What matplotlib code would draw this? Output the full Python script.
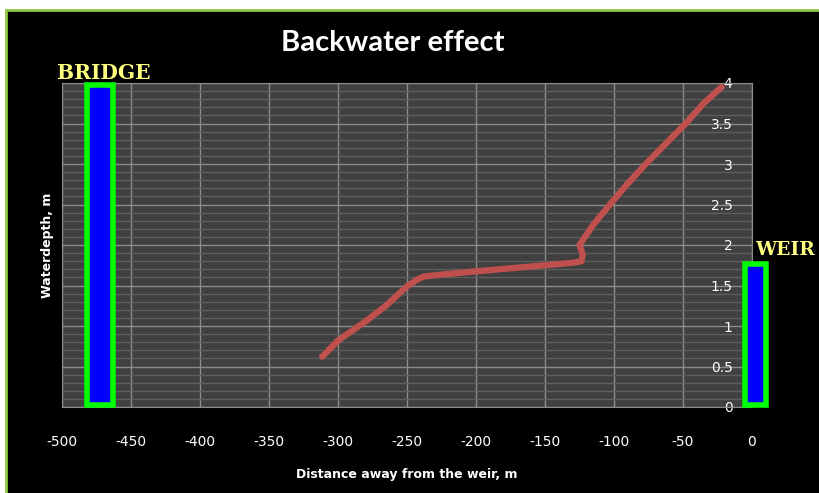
import matplotlib
matplotlib.use("Agg")
import matplotlib.pyplot as plt
import matplotlib.patches as patches
from matplotlib.ticker import MultipleLocator

# water surface profile
dist = [-311.5, -300, -279, -264.6, -250, -243, -238, -228, -200, -150,
        -130, -123.5, -122.6, -125, -115, -103, -90.5, -77, -62.5, -48, -35, -22]
depth = [0.62, 0.82, 1.07, 1.26, 1.49, 1.57, 1.61, 1.63, 1.675, 1.75,
         1.78, 1.80, 1.88, 2.0, 2.25, 2.5, 2.75, 3.0, 3.25, 3.5, 3.75, 3.95]

# structures: (x left, x right, top depth)
bridge = (-482, -463, 3.98)
weir = (-5, 10, 1.76)

xticks = [-500, -450, -400, -350, -300, -250, -200, -150, -100, -50, 0]
yticks = [0, 0.5, 1, 1.5, 2, 2.5, 3, 3.5, 4]

fig = plt.figure(figsize=(8.19, 4.93), dpi=100, facecolor="white")
frame = patches.Rectangle((6 / 819, -0.1), 1.0, 1.1 - 10 / 493,
                          transform=fig.transFigure, facecolor="black",
                          edgecolor="#8DC63F", lw=2, zorder=-10)
fig.patches.append(frame)

ax = fig.add_axes([62 / 819, 1 - 407 / 493, 690 / 819, 324 / 493])
ax.set_zorder(1)
ax.set_facecolor("#404040")

ax.plot(dist, depth, color="#C0504D", lw=4.5, solid_capstyle="round",
        solid_joinstyle="round", zorder=3)

for x0, x1, top in (bridge, weir):
    r = patches.Rectangle((x0, 0.02), x1 - x0, top - 0.02, facecolor="#0000FF",
                          edgecolor="#00FF00", lw=4, clip_on=False, zorder=4)
    ax.add_patch(r)

ax.text(-470, 4.12, "BRIDGE", color="#FFFF80", fontsize=14.5, fontweight="bold",
        family="DejaVu Serif", ha="center", va="center", clip_on=False)
ax.text(24, 1.94, "WEIR", color="#FFFF80", fontsize=13.5, fontweight="bold",
        family="DejaVu Serif", ha="center", va="center", clip_on=False)

ax.set_xlim(-500, 0)
ax.set_ylim(0, 4)
ax.set_xticks(xticks)
ax.set_yticks(yticks)
ax.set_xticklabels([str(v) for v in xticks])
ax.set_yticklabels([f"{v:g}" for v in yticks])
ax.yaxis.set_minor_locator(MultipleLocator(0.1))

ax.grid(which="major", color="#8C8C8C", lw=1)
ax.grid(which="minor", axis="y", color="#5E5E5E", lw=1)
ax.set_axisbelow(True)

for s in ax.spines.values():
    s.set_color("#8C8C8C")

ax.yaxis.set_ticks_position("right")
ax.tick_params(axis="y", which="both", length=0, pad=-14, colors="white",
               labelsize=10)
for lbl in ax.get_yticklabels():
    lbl.set_ha("right")
ax.tick_params(axis="x", length=0, pad=20, colors="white", labelsize=10)

ax.yaxis.set_label_position("left")
ax.set_ylabel("Waterdepth, m", color="white", fontsize=9, fontweight="bold",
              labelpad=6)
ax.set_xlabel("Distance away from the weir, m", color="white", fontsize=9,
              fontweight="bold", labelpad=14)

fig.text(393 / 819, 1 - 43 / 493, "Backwater effect", color="white",
         fontsize=21, fontweight="bold", family="Lato", ha="center", va="center")

fig.savefig("out.png", dpi=100, facecolor=fig.get_facecolor())
